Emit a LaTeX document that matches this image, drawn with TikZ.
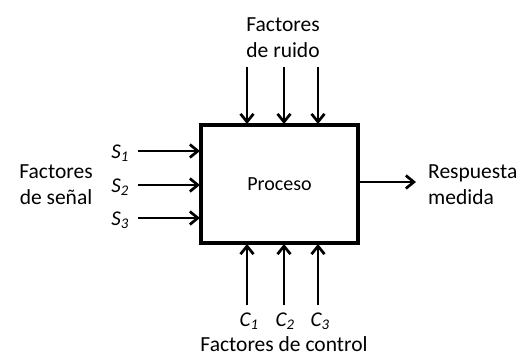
\documentclass[tikz,border=0pt]{standalone}
\usepackage{fontspec}
\setmainfont{Carlito}
\usetikzlibrary{arrows.meta}
\begin{document}
\begin{tikzpicture}[x=1pt,y=-1pt,
  lbl/.style={font=\fontsize{21.5}{26}\selectfont, align=center, inner sep=0pt},
  sym/.style={font=\fontsize{21}{24}\selectfont\itshape, inner sep=0pt},
  arr/.style={line width=2.7pt, -{Straight Barb[length=8pt,width=13pt,line width=2.7pt]}}]
\useasboundingbox (0,0) rectangle (524,356);
\node[draw, line width=3.4pt, minimum width=157pt, minimum height=118pt, inner sep=0pt,
  font=\fontsize{20}{24}\selectfont] (p) at (279.5,184) {Proceso};
% top
\coordinate (t1) at (247,67); \coordinate (t2) at (284,67); \coordinate (t3) at (318,67);
\coordinate (te1) at (247,124); \coordinate (te2) at (284,124); \coordinate (te3) at (318,124);
\draw[arr] (t1) -- (te1); \draw[arr] (t2) -- (te2); \draw[arr] (t3) -- (te3);
\node[lbl] (tl) at (283,38) {Factores\\de ruido};
% bottom
\coordinate (b1) at (247,305); \coordinate (b2) at (284,305); \coordinate (b3) at (318,305);
\coordinate (be1) at (247,244); \coordinate (be2) at (284,244); \coordinate (be3) at (318,244);
\draw[arr] (b1) -- (be1); \draw[arr] (b2) -- (be2); \draw[arr] (b3) -- (be3);
\node[sym] (c1) at (249,321) {C\textsubscript{1}};
\node[sym] (c2) at (285,321) {C\textsubscript{2}};
\node[sym] (c3) at (320,321) {C\textsubscript{3}};
\node[lbl] (bl) at (284,344) {Factores de control};
% left
\coordinate (l1) at (138,151); \coordinate (l2) at (138,185); \coordinate (l3) at (138,218);
\coordinate (le1) at (200,151); \coordinate (le2) at (200,185); \coordinate (le3) at (200,218);
\draw[arr] (l1) -- (le1); \draw[arr] (l2) -- (le2); \draw[arr] (l3) -- (le3);
\node[sym] (s1) at (120,153) {S\textsubscript{1}};
\node[sym] (s2) at (120,187) {S\textsubscript{2}};
\node[sym] (s3) at (120,220) {S\textsubscript{3}};
\node[lbl] (ll) at (56,185) {Factores\\de señal};
% right
\coordinate (r0) at (358,182); \coordinate (r1) at (416,182);
\draw[arr] (r0) -- (r1);
\node[lbl, align=left, anchor=west] (rl) at (428,185) {Respuesta\\medida};
\end{tikzpicture}
\end{document}
